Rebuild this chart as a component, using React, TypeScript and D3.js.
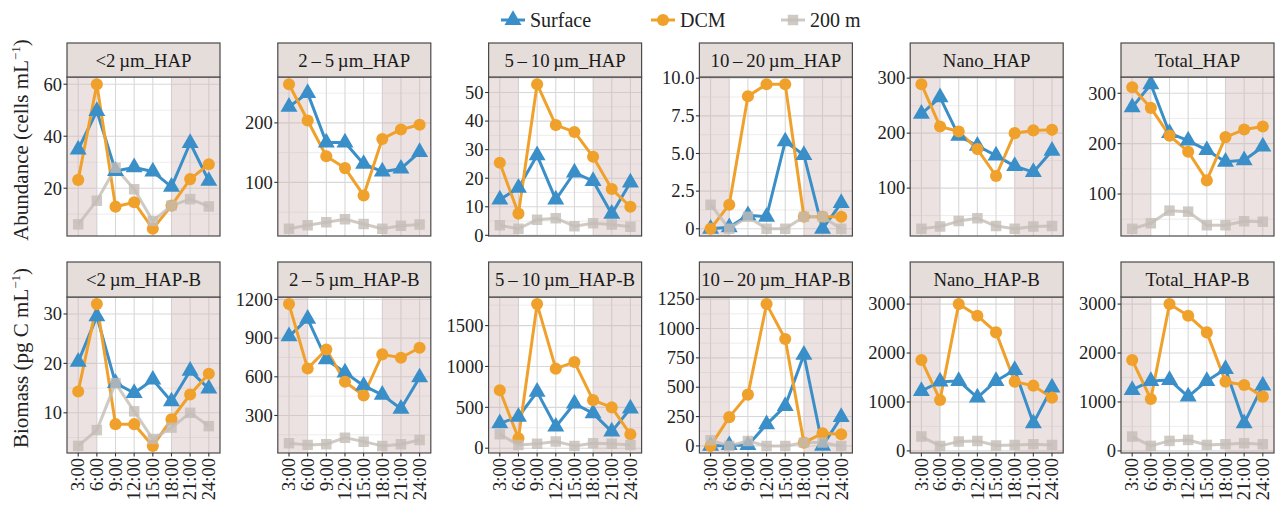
import React from "react";
import * as d3 from "d3";

const times = ["3:00", "6:00", "9:00", "12:00", "15:00", "18:00", "21:00", "24:00"];
const seriesNames = ["Surface", "DCM", "200 m"];
const seriesColors = ["#3b8fc9", "#f0a12c", "#c4bdb7"];

// each panel: [Surface, DCM, 200 m]
const hapLt2 = [
  [34.9, 49.7, 26.6, 28, 26.4, 20.5, 37.4, 22.8],
  [23.2, 60, 12.9, 14.6, 4.4, 13.3, 23.5, 29.2],
  [6.1, 15.2, 27.9, 19.6, 7.4, 13.3, 15.8, 13],
];
const hap2to5 = [
  [227, 250, 167, 167, 131, 118, 123, 151],
  [265, 204, 144, 124, 78, 173, 189, 197],
  [22, 28, 33, 38, 30, 22, 27, 29],
];
const hap5to10 = [
  [12.5, 16.6, 28, 12.5, 22, 19, 7.5, 18.5],
  [25.4, 7.6, 52.9, 38.6, 36.2, 27.5, 16.2, 10],
  [3.5, 2.3, 5.5, 6, 3.2, 4.2, 3.8, 3],
];
const hap10to20 = [
  [0, 0.1, 0.9, 0.8, 5.8, 4.9, 0, 1.7],
  [0, 1.6, 8.8, 9.6, 9.6, 0.8, 0.8, 0.8],
  [1.6, 0, 0.8, 0, 0, 0.8, 0.8, 0],
];
const nanoHap = [
  [235, 265, 195, 177, 159, 140, 129, 168],
  [289, 212, 203, 171, 122, 200, 205, 206],
  [26, 30, 40, 45, 31, 26, 30, 31],
];
const totalHap = [
  [272, 318, 221, 206, 187, 164, 167, 194],
  [312, 271, 216, 184, 127, 213, 228, 234],
  [31, 42, 67, 65, 38, 38, 46, 45],
];
const hapBLt2 = [
  [20.3, 29.5, 16, 14, 16.7, 12.3, 18.5, 14.9],
  [14.3, 32, 7.7, 7.7, 3.3, 8.7, 13.7, 17.9],
  [3.3, 6.5, 16, 10.3, 4.7, 7, 10, 7.3],
];
const hapB2to5 = [
  [914, 1049, 735, 633, 531, 460, 352, 595],
  [1164, 664, 812, 562, 455, 774, 748, 825],
  [84, 72, 77, 128, 97, 64, 77, 110],
];
const hapB5to10 = [
  [304, 385, 689, 263, 547, 426, 203, 486],
  [709, 122, 1763, 973, 1054, 588, 499, 170],
  [170, 40, 53, 81, 28, 61, 53, 40],
];
const hapB10to20 = [
  [0, 6, 6, 183, 339, 776, 0, 245],
  [0, 245, 437, 1208, 911, 28, 107, 99],
  [48, 0, 42, 0, 0, 28, 28, 0],
];
const nanoHapB = [
  [1224, 1415, 1429, 1088, 1429, 1653, 565, 1293],
  [1857, 1041, 3000, 2762, 2422, 1415, 1333, 1088],
  [293, 102, 190, 204, 109, 122, 136, 122],
];
const totalHapB = [
  [1245, 1429, 1449, 1109, 1429, 1673, 565, 1333],
  [1857, 1061, 3000, 2762, 2422, 1415, 1347, 1109],
  [293, 102, 204, 224, 122, 136, 156, 136],
];

const titles = [
  "<2\u2009µm_HAP", "2\u2009\u2013\u20095\u2009µm_HAP", "5\u2009\u2013\u200910\u2009µm_HAP",
  "10\u2009\u2013\u200920\u2009µm_HAP", "Nano_HAP", "Total_HAP",
  "<2\u2009µm_HAP-B", "2\u2009\u2013\u20095\u2009µm_HAP-B", "5\u2009\u2013\u200910\u2009µm_HAP-B",
  "10\u2009\u2013\u200920\u2009µm_HAP-B", "Nano_HAP-B", "Total_HAP-B",
];
const panelValues = [hapLt2, hap2to5, hap5to10, hap10to20, nanoHap, totalHap,
  hapBLt2, hapB2to5, hapB5to10, hapB10to20, nanoHapB, totalHapB];
const panelTicks = [
  [20, 40, 60], [100, 200], [0, 10, 20, 30, 40, 50], [0, 2.5, 5, 7.5, 10], [100, 200, 300], [100, 200, 300],
  [10, 20, 30], [300, 600, 900, 1200], [0, 500, 1000, 1500], [0, 250, 500, 750, 1000, 1250],
  [0, 1000, 2000, 3000], [0, 1000, 2000, 3000],
];
const panelTickLabels = [
  ["20", "40", "60"], ["100", "200"], ["0", "10", "20", "30", "40", "50"], ["0", "2.5", "5.0", "7.5", "10.0"],
  ["100", "200", "300"], ["100", "200", "300"],
  ["10", "20", "30"], ["300", "600", "900", "1200"], ["0", "500", "1000", "1500"],
  ["0", "250", "500", "750", "1000", "1250"], ["0", "1000", "2000", "3000"], ["0", "1000", "2000", "3000"],
];

const font = "'Liberation Serif', 'Times New Roman', serif";
const colX0 = 67;
const colStep = 210.8;
const panelW = 153;
const rows = [
  { stripTop: 43, panelTop: 77, panelBottom: 236 },
  { stripTop: 262, panelTop: 297, panelBottom: 453 },
];

const symbolTypes = [d3.symbolTriangle, d3.symbolCircle, d3.symbolSquare];
const symbolSizes = [125, 115, 110];
const seriesOpacity = [1, 1, 0.8];

function Marker({ s, cx, cy }) {
  const path = d3.symbol().type(symbolTypes[s]).size(symbolSizes[s])();
  return <path d={path} transform={`translate(${cx},${cy})`} fill={seriesColors[s]} opacity={seriesOpacity[s]} />;
}

function Panel({ idx }) {
  const col = idx % 6;
  const row = Math.floor(idx / 6);
  const { stripTop, panelTop, panelBottom } = rows[row];
  const left = colX0 + col * colStep;
  const right = left + panelW;
  const values = panelValues[idx];
  const ticks = panelTicks[idx];
  const labels = panelTickLabels[idx];

  const x = d3.scaleLinear().domain([0.4, times.length + 0.6]).range([left, right]);
  const [mn, mx] = d3.extent(values.flat()) as [number, number];
  const pad = (mx - mn) * 0.05;
  const y = d3.scaleLinear().domain([mn - pad, mx + pad]).range([panelBottom, panelTop]);
  const [d0, d1] = y.domain();
  const step = ticks[1] - ticks[0];
  const minor = d3.range(ticks[0] - step / 2, ticks[ticks.length - 1] + step, step).filter(v => v >= d0 && v <= d1);

  const line = d3.line<number>().x((_, i) => x(i + 1)).y(d => y(d));
  const clipId = `clip${idx}`;

  return (
    <g>
      <defs>
        <clipPath id={clipId}>
          <rect x={left} y={panelTop} width={panelW} height={panelBottom - panelTop} />
        </clipPath>
      </defs>
      <rect x={left} y={panelTop} width={panelW} height={panelBottom - panelTop} fill="#fff" />
      <g clipPath={`url(#${clipId})`}>
        {minor.map(v => (
          <line key={"m" + v} x1={left} x2={right} y1={y(v)} y2={y(v)} stroke="#e8e8e8" strokeWidth={0.8} />
        ))}
        {ticks.map(v => (
          <line key={"t" + v} x1={left} x2={right} y1={y(v)} y2={y(v)} stroke="#d8d8d8" strokeWidth={1.1} />
        ))}
        {times.map((t, i) => (
          <line key={t} x1={x(i + 1)} x2={x(i + 1)} y1={panelTop} y2={panelBottom} stroke="#d8d8d8" strokeWidth={1.1} />
        ))}
        <rect x={left} y={panelTop} width={x(2) - left} height={panelBottom - panelTop} fill="#d0b4b4" opacity={0.38} />
        <rect x={x(6)} y={panelTop} width={right - x(6)} height={panelBottom - panelTop} fill="#d0b4b4" opacity={0.38} />
        {values.map((vals, s) => (
          <path key={"l" + s} d={line(vals) || ""} fill="none" stroke={seriesColors[s]} strokeWidth={3}
            opacity={seriesOpacity[s]} strokeLinejoin="round" />
        ))}
        {values.map((vals, s) => vals.map((v, i) => (
          <Marker key={"p" + s + "-" + i} s={s} cx={x(i + 1)} cy={y(v)} />
        )))}
      </g>
      <rect x={left} y={panelTop} width={panelW} height={panelBottom - panelTop} fill="none" stroke="#4a4a4a" strokeWidth={1.2} />
      <rect x={left} y={stripTop} width={panelW} height={panelTop - stripTop} fill="#e4ddd9" stroke="#4a4a4a" strokeWidth={1.2} />
      <text x={(left + right) / 2} y={(stripTop + panelTop) / 2 + 6.5} textAnchor="middle" fontFamily={font}
        fontSize={18.8} fill="#1a1a1a">{titles[idx]}</text>
      {ticks.filter(v => v >= d0 && v <= d1).map(v => (
        <g key={"yt" + v}>
          <line x1={left - 3.5} x2={left} y1={y(v)} y2={y(v)} stroke="#333" strokeWidth={1.1} />
          <text x={left - 5} y={y(v)} dy="0.34em" textAnchor="end" fontFamily={font} fontSize={18.5} fill="#222">
            {labels[ticks.indexOf(v)]}
          </text>
        </g>
      ))}
      {row === 1 && times.map((t, i) => (
        <g key={"xt" + t}>
          <line x1={x(i + 1)} x2={x(i + 1)} y1={panelBottom} y2={panelBottom + 3.5} stroke="#333" strokeWidth={1.1} />
          <text transform={`translate(${x(i + 1)},${panelBottom + 5}) rotate(-90)`} dy="0.34em" textAnchor="end"
            fontFamily={font} fontSize={18.5} fill="#222">{t}</text>
        </g>
      ))}
    </g>
  );
}

function Legend() {
  const centers = [513, 663, 793];
  const cy = 20;
  return (
    <g>
      {seriesNames.map((name, s) => (
        <g key={name}>
          <line x1={centers[s] - 12} x2={centers[s] + 12} y1={cy} y2={cy} stroke={seriesColors[s]} strokeWidth={3}
            opacity={seriesOpacity[s]} />
          <Marker s={s} cx={centers[s]} cy={cy} />
          <text x={centers[s] + 17} y={cy} dy="0.34em" fontFamily={font} fontSize={20} fill="#222">{name}</text>
        </g>
      ))}
    </g>
  );
}

export default function App() {
  return (
    <svg width={1276} height={510} style={{ position: "absolute", left: 0, top: 0, background: "#fff" }}>
      <Legend />
      {panelValues.map((_, i) => <Panel key={i} idx={i} />)}
      <text transform="translate(28,140) rotate(-90)" textAnchor="middle" fontFamily={font} fontSize={21} fill="#222">
        Abundance (cells mL<tspan dy={-8} fontSize={13}>−1</tspan><tspan dy={8}>)</tspan>
      </text>
      <text transform="translate(28,358) rotate(-90)" textAnchor="middle" fontFamily={font} fontSize={21} fill="#222">
        Biomass (pg C mL<tspan dy={-8} fontSize={13}>−1</tspan><tspan dy={8}>)</tspan>
      </text>
    </svg>
  );
}
